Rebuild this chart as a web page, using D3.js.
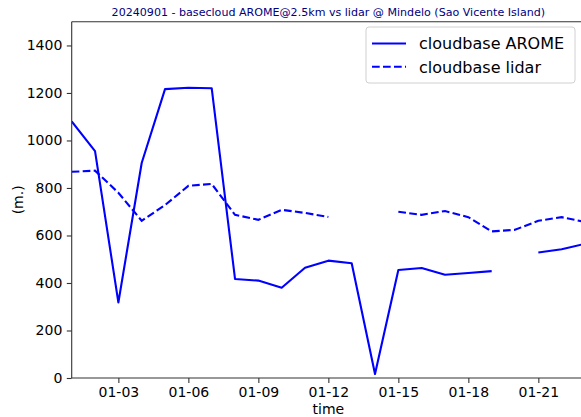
<!DOCTYPE html>
<html><head><meta charset="utf-8">
<script src="https://cdn.jsdelivr.net/npm/d3@7"></script>
<style>body{margin:0;background:#fff}svg{display:block}text{font-family:"DejaVu Sans",sans-serif}</style>
</head><body><svg id="c" width="581" height="417"></svg>
<script>
const dates = ["2024-01-01","2024-01-02","2024-01-03","2024-01-04","2024-01-05","2024-01-06","2024-01-07","2024-01-08","2024-01-09","2024-01-10","2024-01-11","2024-01-12","2024-01-13","2024-01-14","2024-01-15","2024-01-16","2024-01-17","2024-01-18","2024-01-19","2024-01-20","2024-01-21","2024-01-22","2024-01-23"];
const arome = [1080, 955, 318, 905, 1216, 1222, 1220, 417, 410, 380, 464, 494, 483, 17, 455, 463, 435, 442, 450, null, 528, 542, 565];
const lidar = [868, 873, 780, 662, 728, 809, 817, 687, 666, 708, 695, 678, null, null, 700, 687, 703, 677, 617, 624, 662, 677, 657];
const yTicks = [0, 200, 400, 600, 800, 1000, 1200, 1400];
const tickDates = ["2024-01-03","2024-01-06","2024-01-09","2024-01-12","2024-01-15","2024-01-18","2024-01-21"];
const titleText = "20240901 - basecloud AROME@2.5km vs lidar @ Mindelo (Sao Vicente Island)";
const seriesNames = ["cloudbase AROME", "cloudbase lidar"];

const svg = d3.select("#c");
const L = 71.7, R = 585, T = 21.7, B = 378;
const parse = d3.utcParse("%Y-%m-%d");
const x = d3.scaleUtc().domain([parse(dates[0]), parse(dates[dates.length-1])]).range([L, R]);
const y = d3.scaleLinear().domain([0, 1500]).range([B, T]);

svg.append("defs").append("clipPath").attr("id","clip").append("rect")
  .attr("x", L).attr("y", T).attr("width", R - L).attr("height", B - T);

const mk = vals => dates.map((d, i) => ({d: parse(d), v: vals[i]}));
const line = d3.line().defined(p => p.v != null).x(p => x(p.d)).y(p => y(p.v));
const g = svg.append("g").attr("clip-path", "url(#clip)");
g.append("path").datum(mk(arome)).attr("d", line).attr("fill","none")
  .attr("stroke","#0000ff").attr("stroke-width",2.1).attr("stroke-linejoin","round");
g.append("path").datum(mk(lidar)).attr("d", line).attr("fill","none")
  .attr("stroke","#0000ff").attr("stroke-width",2.1).attr("stroke-dasharray","7.7,3.3");

// axes
const xa = svg.append("g").attr("transform",`translate(0,${B})`)
  .call(d3.axisBottom(x).tickValues(tickDates.map(parse)).tickFormat(d3.utcFormat("%m-%d")).tickSize(4.9).tickPadding(4.5));
const ya = svg.append("g").attr("transform",`translate(${L},0)`)
  .call(d3.axisLeft(y).tickValues(yTicks).tickFormat(d3.format("d")).tickSize(4.9).tickPadding(4.5));
[xa, ya].forEach(a => {
  a.select(".domain").remove();
  a.selectAll("line").attr("stroke","#333").attr("stroke-width",1.1);
  a.selectAll("text").attr("font-size","14px").attr("fill","#000").attr("font-family","DejaVu Sans");
});
// spines
svg.append("line").attr("x1",L).attr("x2",L).attr("y1",T).attr("y2",B).attr("stroke","#333").attr("stroke-width",1.1);
svg.append("line").attr("x1",L).attr("x2",R).attr("y1",B).attr("y2",B).attr("stroke","#333").attr("stroke-width",1.1);
svg.append("line").attr("x1",L).attr("x2",R).attr("y1",T).attr("y2",T).attr("stroke","#333").attr("stroke-width",1.1);

// labels
svg.append("text").attr("x",(L+R)/2).attr("y",414).attr("text-anchor","middle").attr("font-size","14px").text("time");
svg.append("text").attr("transform",`translate(23,${(T+B)/2}) rotate(-90)`).attr("text-anchor","middle").attr("font-size","14px").text("(m.)");
const tt = svg.append("text").attr("x",(L+R)/2).attr("y",16).attr("text-anchor","middle").attr("font-size","11px").attr("fill","#000080").text(titleText);
const w = tt.node().getComputedTextLength();
tt.attr("font-size", (11*434/w).toFixed(2) + "px");

// legend
const lg = svg.append("g");
lg.append("rect").attr("x",366).attr("y",27).attr("width",209).attr("height",56).attr("rx",3)
  .attr("fill","#fff").attr("fill-opacity",0.8).attr("stroke","#d0d0d0").attr("stroke-width",1);
seriesNames.forEach((n, i) => {
  const cy = 43.5 + i * 23.3;
  lg.append("line").attr("x1",372).attr("x2",406).attr("y1",cy).attr("y2",cy)
    .attr("stroke","#0000ff").attr("stroke-width",2.1).attr("stroke-dasharray", i ? "7.7,3.3" : null);
  lg.append("text").attr("x",419).attr("y",cy+5.8).attr("font-size","16px").text(n);
});
</script></body></html>
